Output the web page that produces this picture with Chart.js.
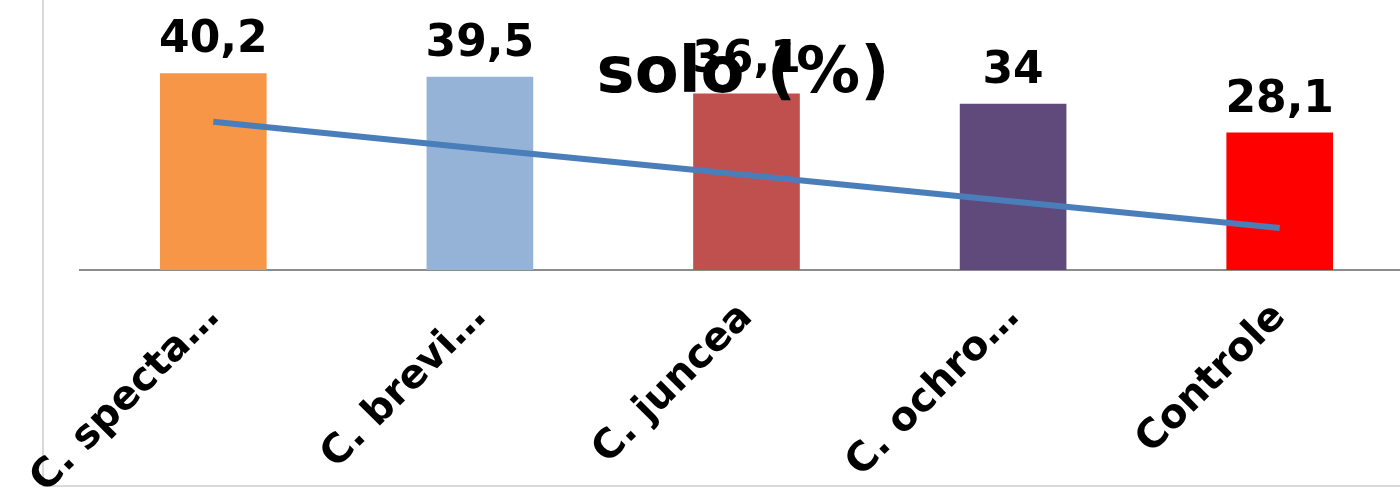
<!DOCTYPE html>
<html>
<head>
<meta charset="utf-8">
<script src="https://cdn.jsdelivr.net/npm/chart.js@4.4.1/dist/chart.umd.min.js"></script>
<style>
  html, body { margin: 0; padding: 0; background: #ffffff; overflow: hidden; }
  #wrap { position: relative; width: 1400px; height: 494px; overflow: hidden; }
  #frame { position: absolute; left: 42px; top: -10px; width: 1400px; height: 497px;
           border-left: 2px solid #d9d9d9; border-bottom: 2px solid #d9d9d9; box-sizing: border-box; }
  #box { position: absolute; left: 0; top: 0; width: 1413px; height: 494px; }
</style>
</head>
<body>
<div id="wrap">
  <div id="frame"></div>
  <div id="box"><canvas id="c" width="1413" height="494"></canvas></div>
</div>
<script>
// Categories and values
const categories = ['C. specta…', 'C. brevi…', 'C. juncea', 'C. ochro…', 'Controle'];
const moisture = [40.2, 39.5, 36.1, 34, 28.1];
const trend = [30.3, 24.8, 19.4, 14.0, 8.6];
const barColors = ['#F79646', '#95B3D7', '#C0504D', '#604A7B', '#FF0000'];
const titleText = 'solo (%)';

const FONT = "'DejaVu Sans', sans-serif";

// Value labels above each bar, decimal comma
const barLabels = {
  id: 'barLabels',
  afterDatasetsDraw(chart) {
    const ctx = chart.ctx;
    const meta = chart.getDatasetMeta(1);
    ctx.save();
    ctx.font = 'bold 44px ' + FONT;
    ctx.fillStyle = '#000';
    ctx.textAlign = 'center';
    ctx.textBaseline = 'alphabetic';
    meta.data.forEach((bar, i) => {
      const txt = String(moisture[i]).replace('.', ',');
      ctx.fillText(txt, bar.x, bar.y - 21);
    });
    ctx.restore();
  }
};

// Title drawn over the plot
const overTitle = {
  id: 'overTitle',
  afterDraw(chart) {
    const ctx = chart.ctx;
    ctx.save();
    ctx.font = 'bold 64px ' + FONT;
    ctx.fillStyle = '#000';
    ctx.textAlign = 'center';
    ctx.textBaseline = 'alphabetic';
    ctx.fillText(titleText, 743, 92);
    ctx.restore();
  }
};

new Chart(document.getElementById('c'), {
  data: {
    labels: categories,
    datasets: [
      {
        type: 'line',
        data: trend,
        borderColor: '#4A7EBB',
        borderWidth: 6,
        pointRadius: 0,
        fill: false,
        tension: 0,
        borderCapStyle: 'butt',
        order: 0
      },
      {
        type: 'bar',
        data: moisture,
        backgroundColor: barColors,
        borderWidth: 0,
        categoryPercentage: 1,
        barPercentage: 0.4,
        order: 1
      }
    ]
  },
  options: {
    responsive: false,
    animation: false,
    events: [],
    layout: { padding: { left: 80, right: 0, top: 0, bottom: 0 } },
    plugins: { legend: { display: false }, title: { display: false }, tooltip: { enabled: false } },
    scales: {
      x: {
        offset: true,
        grid: { display: false, drawTicks: false },
        border: { display: true, color: '#8C8C8C', width: 2 },
        ticks: {
          color: '#000',
          font: { family: FONT, weight: 'bold', size: 40 },
          minRotation: 45,
          maxRotation: 45,
          autoSkip: false,
          padding: 24
        },
        afterFit(scale) { scale.height = 224; }
      },
      y: {
        display: false,
        min: 0,
        max: 55.2
      }
    }
  },
  plugins: [barLabels, overTitle]
});
</script>
</body>
</html>
